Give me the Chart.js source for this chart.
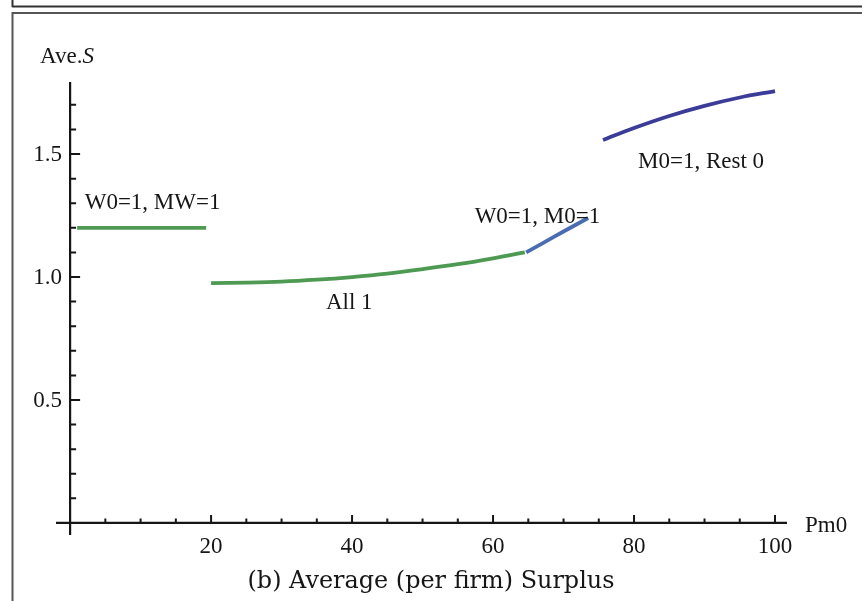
<!DOCTYPE html>
<html>
<head>
<meta charset="utf-8">
<script src="https://cdn.jsdelivr.net/npm/chart.js@4.4.1/dist/chart.umd.min.js"></script>
<style>
html, body { margin: 0; padding: 0; background: #fff; }
#wrap { position: relative; width: 862px; height: 601px; }
</style>
</head>
<body>
<div id="wrap"><canvas id="surplus-chart" width="862" height="601"></canvas></div>
<script>
// values
var pm0_w0mw = [1, 19.3];
var ave_w0mw = [1.2, 1.2];
var pm0_all1 = [20, 25, 30, 35, 40, 45, 50, 55, 60, 64.5];
var ave_all1 = [0.975, 0.977, 0.981, 0.989, 1.0, 1.014, 1.032, 1.052, 1.076, 1.100];
var pm0_w0m0 = [64.7, 67, 70, 73.5];
var ave_w0m0 = [1.10, 1.137, 1.185, 1.24];
var pm0_m0 = [75.6, 80, 85, 90, 95, 100];
var ave_m0 = [1.557, 1.606, 1.655, 1.696, 1.730, 1.756];

var x_tick_labels = [20, 40, 60, 80, 100];
var y_tick_labels = ['0.5', '1.0', '1.5'];
var region_labels = ['W0=1, MW=1', 'All 1', 'W0=1, M0=1', 'M0=1, Rest 0'];
var caption = '(b) Average (per firm) Surplus';

var GREEN = '#4e9a52';
var BLUE = '#4a6cb3';
var NAVY = '#3b3c98';
var INK = '#161616';
var FONT = '23px "Liberation Serif", "Times New Roman", serif';

function to_points(xs, ys) {
    var pts = [];
    for (var i = 0; i < xs.length; i++) {
        pts.push({x: xs[i], y: ys[i]});
    }
    return pts;
}

function line_set(label, xs, ys, color) {
    return {
        label: label,
        data: to_points(xs, ys),
        showLine: true,
        borderColor: color,
        borderWidth: 3.8,
        pointRadius: 0,
        fill: false,
        tension: 0.35,
        borderCapStyle: 'butt'
    };
}

// where each region label sits, in data units
var label_spots = [
    {x: 11.7, y: 1.303},
    {x: 39.6, y: 0.894},
    {x: 66.3, y: 1.244},
    {x: 89.5, y: 1.467}
];

var frame_plugin = {
    id: 'frame',
    beforeDraw: function(chart) {
        var c = chart.ctx;
        c.save();
        c.fillStyle = '#fff';
        c.fillRect(0, 0, chart.width, chart.height);
        c.strokeStyle = '#333';
        c.lineWidth = 2;
        c.beginPath();
        c.moveTo(12.5, 0); c.lineTo(12.5, 7);
        c.moveTo(12, 6.5); c.lineTo(862, 6.5);
        c.stroke();
        c.strokeStyle = '#555';
        c.beginPath();
        c.moveTo(12, 13); c.lineTo(862, 13);
        c.moveTo(12.5, 12); c.lineTo(12.5, 601);
        c.stroke();
        c.restore();
    }
};

// Mathematica style axes crossing at the origin, ticks drawn inward
var axes_plugin = {
    id: 'mmaAxes',
    afterDatasetsDraw: function(chart) {
        var c = chart.ctx;
        var xs = chart.scales.x, ys = chart.scales.y;
        var area = chart.chartArea;
        var x0 = xs.getPixelForValue(0);
        var y0 = ys.getPixelForValue(0);
        var v, p, i;
        c.save();
        c.strokeStyle = INK;
        c.lineWidth = 2.2;
        c.beginPath();
        c.moveTo(area.left, y0); c.lineTo(area.right, y0);
        c.moveTo(x0, area.top); c.lineTo(x0, area.bottom);
        c.stroke();

        c.lineWidth = 2;
        c.beginPath();
        for (v = 5; v <= 100; v += 5) {
            p = xs.getPixelForValue(v);
            c.moveTo(p, y0);
            c.lineTo(p, y0 - (v % 20 === 0 ? 8 : 4.5));
        }
        for (i = 1; i <= 17; i++) {
            v = i / 10;
            p = ys.getPixelForValue(v);
            c.moveTo(x0, p);
            c.lineTo(x0 + (i % 5 === 0 ? 10 : 6), p);
        }
        c.stroke();

        c.fillStyle = INK;
        c.font = FONT;
        c.textAlign = 'center';
        c.textBaseline = 'alphabetic';
        x_tick_labels.forEach(function(t) {
            c.fillText(String(t), xs.getPixelForValue(t), y0 + 30);
        });
        c.textAlign = 'right';
        c.textBaseline = 'middle';
        y_tick_labels.forEach(function(t) {
            c.fillText(t, x0 - 8, ys.getPixelForValue(parseFloat(t)) + 1);
        });

        // axis names
        c.textAlign = 'left';
        c.textBaseline = 'alphabetic';
        var ave_w = c.measureText('Ave.').width;
        var start = x0 - 30;
        c.fillText('Ave.', start, area.top - 19);
        c.font = 'italic ' + FONT;
        c.fillText('S', start + ave_w, area.top - 19);
        c.font = FONT;
        c.fillText('Pm0', area.right + 18, y0 + 9);

        // region labels
        c.textAlign = 'center';
        c.textBaseline = 'middle';
        region_labels.forEach(function(t, k) {
            c.fillText(t, xs.getPixelForValue(label_spots[k].x), ys.getPixelForValue(label_spots[k].y));
        });

        // caption under the plot
        c.font = '24px "DejaVu Serif", serif';
        c.textAlign = 'left';
        c.textBaseline = 'alphabetic';
        var w = c.measureText(caption).width;
        var sx = 367 / w;
        c.translate(431 - 367 / 2, 588);
        c.scale(sx, 1);
        c.fillText(caption, 0, 0);
        c.restore();
    }
};

var ctx = document.getElementById('surplus-chart').getContext('2d');
new Chart(ctx, {
    type: 'scatter',
    data: {
        datasets: [
            line_set('W0=1, MW=1', pm0_w0mw, ave_w0mw, GREEN),
            line_set('All 1', pm0_all1, ave_all1, GREEN),
            line_set('W0=1, M0=1', pm0_w0m0, ave_w0m0, BLUE),
            line_set('M0=1, Rest 0', pm0_m0, ave_m0, NAVY)
        ]
    },
    options: {
        responsive: false,
        animation: false,
        layout: {padding: {left: 56, right: 75, top: 82, bottom: 66}},
        scales: {
            x: {type: 'linear', min: -2, max: 101.7, display: false},
            y: {type: 'linear', min: -0.049, max: 1.793, display: false}
        },
        plugins: {
            legend: {display: false},
            tooltip: {enabled: false}
        }
    },
    plugins: [frame_plugin, axes_plugin]
});
</script>
</body>
</html>
